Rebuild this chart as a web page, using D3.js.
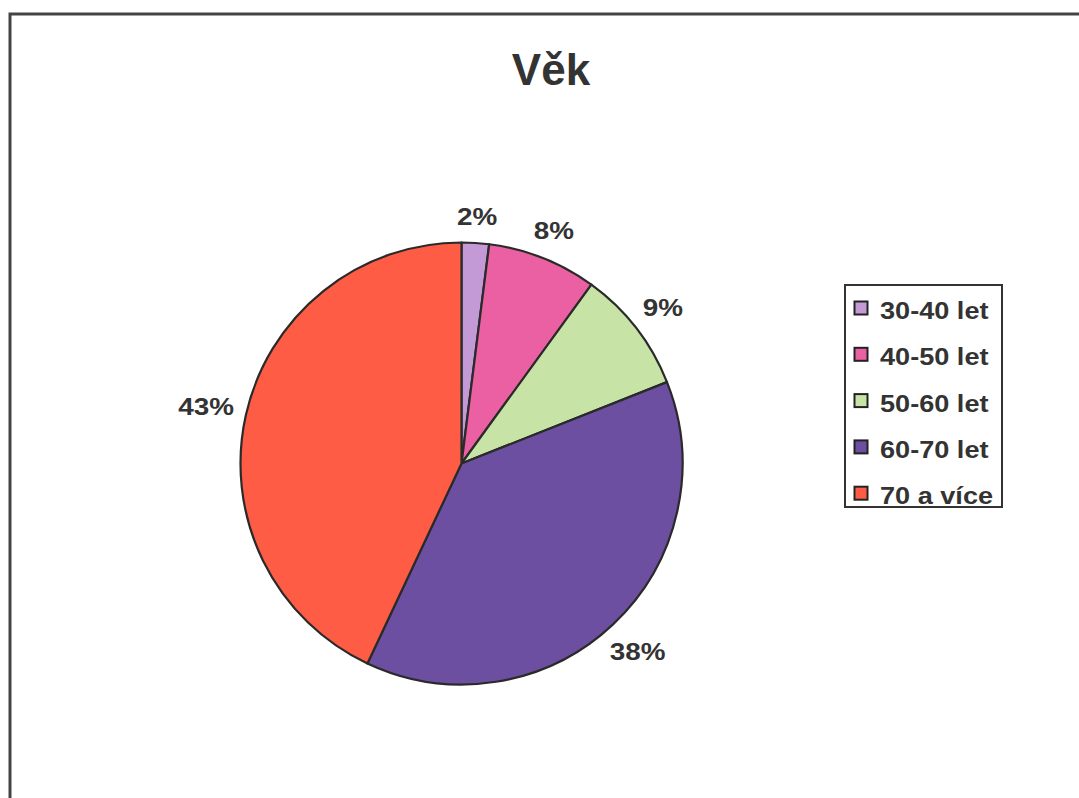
<!DOCTYPE html>
<html>
<head>
<meta charset="utf-8">
<script src="https://cdn.jsdelivr.net/npm/d3@7"></script>
<style>
  html, body { margin: 0; padding: 0; background: #fff; }
  svg { display: block; }
  text { font-family: "Liberation Sans", Arial, sans-serif; fill: #333; }
</style>
</head>
<body>
<svg id="chart" width="1079" height="798"></svg>
<script>
// Age groups and their shares (percent)
const categories = ["30-40 let", "40-50 let", "50-60 let", "60-70 let", "70 a více"];
const shares = [2, 8, 9, 38, 43];
const colors = ["#C39AD6", "#EA60A2", "#C7E3A6", "#6D4FA1", "#FF5C45"];
const title = "Věk";

const W = 1079, H = 798;
const svg = d3.select("#chart");

// outer frame
svg.append("rect")
  .attr("x", 10).attr("y", 14)
  .attr("width", W + 10).attr("height", H + 10)
  .attr("fill", "none").attr("stroke", "#444").attr("stroke-width", 3);

// title
svg.append("text")
  .attr("x", 551).attr("y", 85)
  .attr("text-anchor", "middle")
  .attr("font-size", 44).attr("font-weight", "bold")
  .text(title);

// pie
const cx = 461.5, cy = 463.5, r = 221;
const data = categories.map((c, i) => ({ name: c, value: shares[i], color: colors[i] }));
const pie = d3.pie().value(d => d.value).sort(null);
const arcs = pie(data);
const arc = d3.arc().innerRadius(0).outerRadius(r);

const g = svg.append("g").attr("transform", `translate(${cx},${cy})`);
g.selectAll("path.slice")
  .data(arcs)
  .enter().append("path")
  .attr("class", "slice")
  .attr("d", arc)
  .attr("fill", d => d.data.color)
  .attr("stroke", "#2a2a2a")
  .attr("stroke-width", 2.2)
  .attr("stroke-linejoin", "round");

// percentage labels outside the pie
const stretch = 1.16;
const labelFont = 24;
g.selectAll("text.pct")
  .data(arcs)
  .enter().append("text")
  .attr("class", "pct")
  .attr("font-size", labelFont).attr("font-weight", "bold")
  .attr("text-anchor", "middle")
  .attr("transform", d => {
    const a = (d.startAngle + d.endAngle) / 2;
    const label = d.data.value + "%";
    const hw = label.length * 0.6 * labelFont * stretch / 2;
    const R = 247 + 0.6 * hw * Math.abs(Math.sin(a));
    const x = Math.sin(a) * R;
    const y = -Math.cos(a) * R + labelFont * 0.36;
    return `translate(${x},${y}) scale(${stretch},1)`;
  })
  .text(d => d.data.value + "%");

// legend
const lx = 845, ly = 285, lw = 157, lh = 222;
const legend = svg.append("g");
legend.append("rect")
  .attr("x", lx).attr("y", ly).attr("width", lw).attr("height", lh)
  .attr("fill", "#fff").attr("stroke", "#333").attr("stroke-width", 2);

const step = 46.3;
const items = legend.selectAll("g.item")
  .data(data)
  .enter().append("g")
  .attr("class", "item")
  .attr("transform", (d, i) => `translate(${lx}, ${ly + 26 + i * step})`);

items.append("rect")
  .attr("x", 9.5).attr("y", -9.5)
  .attr("width", 13).attr("height", 13)
  .attr("fill", d => d.color)
  .attr("stroke", "#222").attr("stroke-width", 2);

items.append("text")
  .attr("transform", `translate(35, 8) scale(1.13,1)`)
  .attr("font-size", 24).attr("font-weight", "bold")
  .text(d => d.name);
</script>
</body>
</html>
